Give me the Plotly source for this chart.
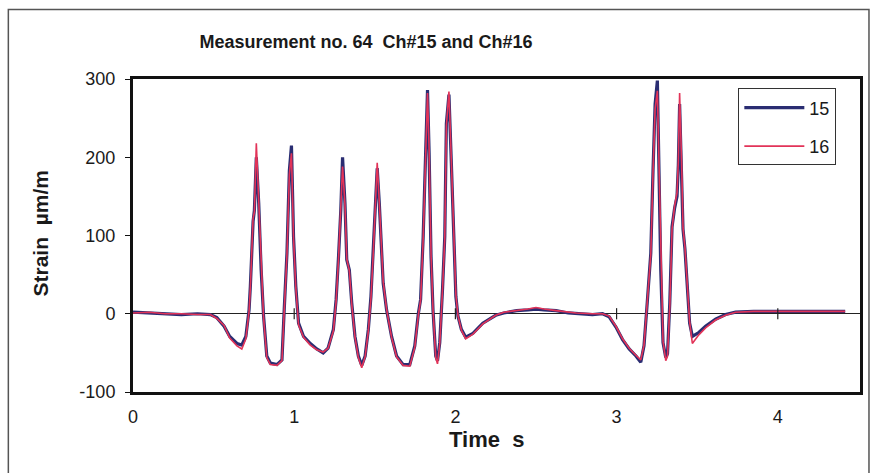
import plotly.graph_objects as go

# ---- data ----
time_s = [0.00, 0.10, 0.20, 0.30, 0.40, 0.48, 0.52, 0.565, 0.60, 0.645, 0.675, 0.70, 0.72, 0.728,
          0.745, 0.753, 0.765, 0.78, 0.795, 0.81, 0.83, 0.852, 0.893, 0.924, 0.938, 0.955, 0.97,
          0.983, 0.996, 1.01, 1.027, 1.058, 1.10, 1.14, 1.18, 1.21, 1.243, 1.26, 1.275, 1.289,
          1.30, 1.315, 1.326, 1.342, 1.357, 1.377, 1.398, 1.419, 1.44, 1.46, 1.476, 1.49, 1.505,
          1.515, 1.528, 1.538, 1.552, 1.573, 1.604, 1.635, 1.676, 1.717, 1.748, 1.77, 1.784, 1.80,
          1.814, 1.827, 1.837, 1.849, 1.861, 1.878, 1.889, 1.903, 1.92, 1.934, 1.944, 1.96, 1.975,
          1.99, 2.003, 2.016, 2.037, 2.064, 2.109, 2.17, 2.25, 2.30, 2.38, 2.45, 2.50, 2.55, 2.625,
          2.70, 2.75, 2.85, 2.913, 2.954, 2.996, 3.037, 3.078, 3.12, 3.15, 3.17, 3.19, 3.212,
          3.226, 3.239, 3.253, 3.263, 3.274, 3.288, 3.305, 3.316, 3.33, 3.344, 3.36, 3.375, 3.383,
          3.391, 3.404, 3.412, 3.424, 3.438, 3.453, 3.47, 3.51, 3.552, 3.614, 3.676, 3.738, 3.85,
          3.944, 4.05, 4.15, 4.30, 4.418]

ch15 = [2, 1, 0, -1, 0, -1, -5, -16, -29, -38, -40, -29, 5, 35,
        118, 132, 200, 141, 56, -3, -54, -63, -65, -59, 5, 77, 183,
        215, 98, 35, -12, -29, -38, -45, -50, -44, -20, 18, 73, 132,
        200, 141, 69, 56, 14, -29, -54, -66, -54, -20, 22, 77, 141,
        186, 141, 90, 39, 5, -29, -54, -65, -65, -41, 0, 18, 98,
        205, 286, 205, 73, 5, -54, -60, -37, 31, 98, 243, 280, 192,
        86, 22, -3, -20, -30, -25, -12, -2, 1, 4, 5, 6, 5, 4,
        1, 0, -1, 0, -4, -17, -33, -45, -54, -62, -41, 14, 77,
        183, 268, 298, 183, 56, -37, -56, -51, 14, 111, 135, 150, 190,
        268, 183, 108, 83, 36, -12, -29, -24, -16, -7, -1, 2, 3,
        3, 4, 3, 4, 3]

ch16 = [1, 2, 0, 0, -1, -1, -6, -15, -31, -41, -45, -32, 3, 33,
        122, 130, 218, 145, 58, -5, -56, -65, -66, -60, 3, 75, 178,
        205, 96, 33, -14, -30, -40, -46, -49, -44, -22, 16, 70, 130,
        188, 140, 70, 55, 12, -30, -56, -69, -55, -22, 20, 75, 140,
        193, 142, 92, 41, 6, -30, -55, -66, -67, -43, -2, 17, 95,
        200, 282, 210, 75, 6, -56, -64, -38, 30, 96, 240, 284, 195,
        88, 24, -2, -21, -32, -26, -13, -2, 2, 4, 6, 8, 6, 4,
        2, 1, 0, 0, -3, -16, -32, -44, -53, -59, -40, 12, 75,
        180, 262, 285, 190, 60, -35, -60, -54, 10, 108, 138, 155, 195,
        282, 188, 110, 85, 38, -10, -38, -27, -18, -8, -2, 2, 3,
        3, 3, 3, 3, 3]

series_names = ["15", "16"]
tick_times = [1, 2, 3, 4]
x_ticks = [0, 1, 2, 3, 4]
y_ticks = [-100, 0, 100, 200, 300]

# ---- layout geometry (pixels) ----
W, H = 875, 473
L, R, T, B = 133, 862, 78.5, 392
pw, ph = R - L, B - T


def px_x(x):
    return (x - L) / pw


def px_y(y):
    return (B - y) / ph


fig = go.Figure()

fig.add_trace(go.Scatter(
    x=time_s, y=ch15, mode="lines", name=series_names[0], legendgroup="a",
    line=dict(color="#2a2d72", width=3.2)))
fig.add_trace(go.Scatter(
    x=time_s, y=ch16, mode="lines", name=series_names[1], legendgroup="b",
    line=dict(color="#e23358", width=1.6)))

# small tick marks across the zero line (Excel-style axis crossing at 0)
fig.add_trace(go.Scatter(
    x=tick_times, y=[0] * len(tick_times), mode="markers", showlegend=False,
    hoverinfo="skip",
    marker=dict(symbol="line-ns", size=8, line=dict(color="#222", width=1.2))))

font_main = "Liberation Sans, Arial, sans-serif"

fig.update_layout(
    width=W, height=H,
    margin=dict(l=L, r=W - R, t=T, b=H - B),
    paper_bgcolor="white", plot_bgcolor="white",
    font=dict(family=font_main, color="#1a1a1a"),
    title=dict(text="<b>Measurement no. 64  Ch#15 and Ch#16</b>",
               x=366 / W, xref="container", xanchor="center",
               y=1 - 42 / H, yanchor="middle",
               font=dict(size=18, family=font_main, color="#1a1a1a")),
    showlegend=True,
    legend=dict(x=px_x(740), y=px_y(88), xanchor="left", yanchor="top",
                bgcolor="white", bordercolor="#333", borderwidth=1,
                font=dict(size=18, family=font_main, color="#1a1a1a"),
                itemwidth=60, tracegroupgap=12),
    xaxis=dict(range=[0, 4.51], tickvals=x_ticks, ticktext=[str(v) for v in x_ticks],
               showgrid=False, zeroline=False,
               showline=True, linecolor="#111", linewidth=3, mirror=True,
               ticks="", ticklabelstandoff=6,
               tickfont=dict(size=18, family=font_main, color="#1a1a1a")),
    yaxis=dict(range=[-100, 300], tickvals=y_ticks, ticktext=[str(v) for v in y_ticks],
               showgrid=False, zeroline=True, zerolinecolor="#222", zerolinewidth=1.2,
               showline=True, linecolor="#111", linewidth=3, mirror=True,
               ticks="outside", ticklen=5, tickcolor="#111", tickwidth=1,
               ticklabelstandoff=6,
               tickfont=dict(size=18, family=font_main, color="#1a1a1a")),
)

# axis titles
fig.add_annotation(text="<b>Strain  µm/m</b>", xref="paper", yref="paper",
                   x=px_x(40), y=px_y(233), textangle=-90, showarrow=False,
                   xanchor="center", yanchor="middle",
                   font=dict(size=21, family=font_main, color="#1a1a1a"))
fig.add_annotation(text="<b>Time  s</b>", xref="paper", yref="paper",
                   x=px_x(487), y=px_y(440), showarrow=False,
                   xanchor="center", yanchor="middle",
                   font=dict(size=22, family=font_main, color="#1a1a1a"))

# outer chart border
fig.add_shape(type="rect", xref="paper", yref="paper",
              x0=px_x(8), y0=px_y(480), x1=px_x(871), y1=px_y(9),
              line=dict(color="#555", width=1.5), fillcolor="rgba(0,0,0,0)", layer="below")

fig.write_html("out.html")
